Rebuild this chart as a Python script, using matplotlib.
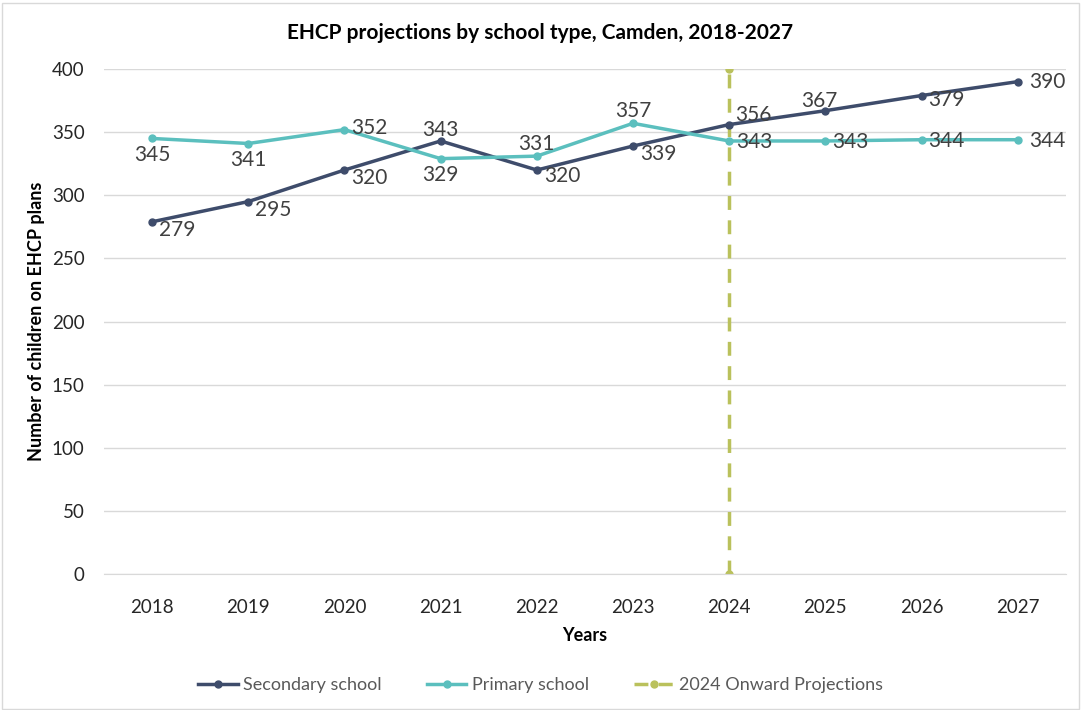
import matplotlib.pyplot as plt
from matplotlib.patches import Rectangle

plt.rcParams['font.family'] = ['Lato', 'DejaVu Sans']

years = ['2018', '2019', '2020', '2021', '2022', '2023', '2024', '2025', '2026', '2027']
secondary = [279, 295, 320, 343, 320, 339, 356, 367, 379, 390]
primary = [345, 341, 352, 329, 331, 357, 343, 343, 344, 344]
proj_year_idx = 6
proj_range = [0, 400]

# label offsets in points (dx, dy)
sec_offsets = [(5, -6), (5, -6), (5, -6), (0, 8), (5, -4), (5, -6), (4, 7), (-4, 7), (5, -3), (8, 0)]
pri_offsets = [(0, -12), (0, -12), (5, 1), (0, -12), (0, 9), (0, 9), (5, -1), (5, -1), (5, -1), (8, -1)]

sec_color = '#3E4C6B'
pri_color = '#5BBFBE'
proj_color = '#BAC15C'
label_color = '#404040'

fig = plt.figure(figsize=(10.81, 7.10), dpi=100)
ax = fig.add_axes([0.0962, 0.1915, 0.8898, 0.7113])

x = list(range(len(years)))
ax.plot(x, secondary, color=sec_color, lw=2.5, marker='o', ms=5, label='Secondary school', zorder=3)
ax.plot(x, primary, color=pri_color, lw=2.5, marker='o', ms=5, label='Primary school', zorder=3)
ax.plot([proj_year_idx, proj_year_idx], proj_range, color=proj_color, lw=2.5,
        ls=(0, (4, 3)), marker='o', ms=5, label='2024 Onward Projections', zorder=2)

for i, v in enumerate(secondary):
    dx, dy = sec_offsets[i]
    ha = 'left' if dx > 0 else 'center'
    ax.annotate(str(v), (i, v), xytext=(dx, dy), textcoords='offset points',
                ha=ha, va='center', fontsize=15, color=label_color, zorder=4)
for i, v in enumerate(primary):
    dx, dy = pri_offsets[i]
    ha = 'left' if dx > 0 else 'center'
    ax.annotate(str(v), (i, v), xytext=(dx, dy), textcoords='offset points',
                ha=ha, va='center', fontsize=15, color=label_color, zorder=4)

ax.set_xlim(-0.5, len(years) - 0.5)
ax.set_ylim(0, 400)
ax.set_yticks(range(0, 401, 50))
ax.set_xticks(x)
ax.set_xticklabels(years)
ax.tick_params(axis='x', length=0, labelsize=13.5, colors='#262626', pad=18)
ax.tick_params(axis='y', length=0, labelsize=13.5, colors='#262626', pad=14)
ax.grid(axis='y', color='#D9D9D9', lw=1)
ax.set_axisbelow(True)
for s in ['top', 'right', 'left']:
    ax.spines[s].set_visible(False)
ax.spines['bottom'].set_color('#D9D9D9')

ax.set_xlabel('Years', fontsize=13, fontweight='bold', labelpad=8)
ax.set_ylabel('Number of children on EHCP plans', fontsize=13, fontweight='bold', labelpad=5)
fig.suptitle('EHCP projections by school type, Camden, 2018-2027', fontsize=15,
             fontweight='bold', y=0.968)

fig.legend(loc='center', bbox_to_anchor=(0.5, 0.035), ncol=3, frameon=False,
           fontsize=13, handlelength=2.2, columnspacing=2.5, handletextpad=0.3,
           labelcolor='#595959')

fig.patches.append(Rectangle((0.002, 0.002), 0.996, 0.994, transform=fig.transFigure,
                             fill=False, ec='#D9D9D9', lw=1))

fig.savefig('out.png', dpi=100)
